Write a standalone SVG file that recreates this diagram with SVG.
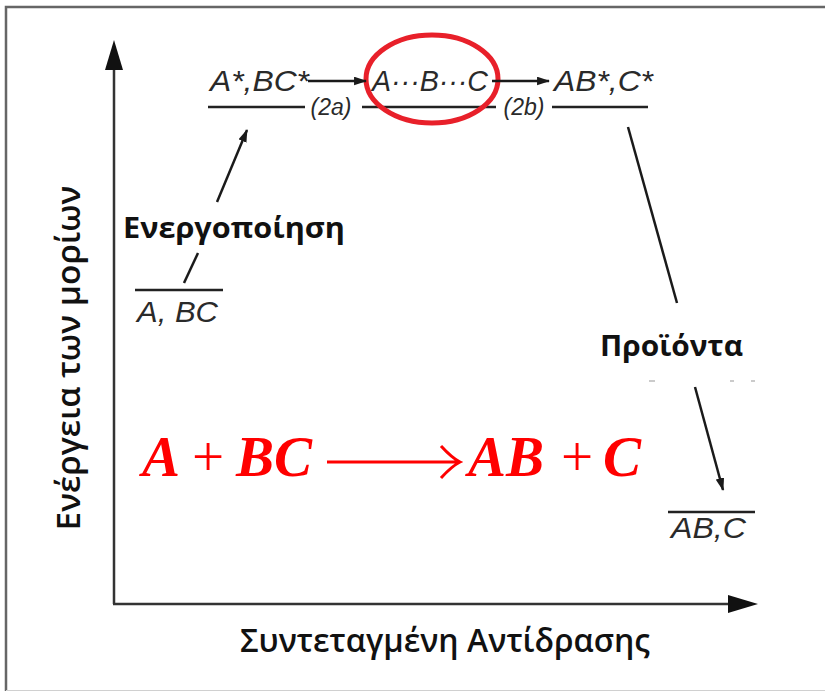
<svg xmlns="http://www.w3.org/2000/svg" width="825" height="693" viewBox="0 0 825 693">
<style>
.lvl{stroke:#222;stroke-width:2.5;fill:none}
.ax{stroke:#333;stroke-width:2.5;fill:none}
.con{stroke:#1a1a1a;stroke-width:2.5;fill:none}
.sp{font-family:"Liberation Sans",Arial,sans-serif;font-style:italic;fill:#2a2a2a}
.gr{font-family:"Open Sans","Noto Sans",sans-serif;fill:#111}
.eq{font-family:"Liberation Serif","Times New Roman",serif;font-weight:bold;font-style:italic;font-size:57px;fill:#ff0000}
</style>
<defs>
<marker id="ah" viewBox="0 0 12 8" refX="11" refY="4" markerWidth="13" markerHeight="9" markerUnits="userSpaceOnUse" orient="auto">
<path d="M0,0 L12,4 L0,8 z" fill="#1a1a1a"/>
</marker>
</defs>
<rect width="825" height="693" fill="#fff"/>
<g id="frame">
<path d="M6,691 V7 H825" fill="none" stroke="#666" stroke-width="2.5"/>
<path d="M6,690.5 H825" fill="none" stroke="#d0d0d0" stroke-width="1"/>
</g>
<g id="axes">
<path class="ax" d="M114,604 V68"/>
<polygon points="114,40 105,70 123,70" fill="#111"/>
<path class="ax" d="M113,604 H730"/>
<polygon points="758,604 728,595 728,613" fill="#111"/>
<text class="gr" x="80" y="358" font-size="33" font-weight="600" text-anchor="middle" transform="rotate(-90 80 358)" textLength="345" lengthAdjust="spacingAndGlyphs">Ενέργεια των μορίων</text>
<text class="gr" x="445" y="652" font-size="32" font-weight="600" text-anchor="middle" textLength="410" lengthAdjust="spacingAndGlyphs">Συντεταγμένη Αντίδρασης</text>
</g>
<g id="node-reactants">
<path class="lvl" d="M135,290 H223"/>
<text class="sp" x="137" y="322" font-size="29" textLength="81" lengthAdjust="spacingAndGlyphs">A, BC</text>
</g>
<g id="node-activated">
<path class="lvl" d="M208,107 H305"/>
<text class="sp" x="210" y="91" font-size="29" textLength="99" lengthAdjust="spacingAndGlyphs">A*,BC*</text>
</g>
<g id="node-complex">
<path class="lvl" d="M362,107 H496"/>
<text class="sp" x="372" y="91" font-size="29" textLength="116" lengthAdjust="spacingAndGlyphs">A···B···C</text>
<ellipse cx="432" cy="79" rx="66" ry="44" fill="none" stroke="#e8202a" stroke-width="5"/>
</g>
<g id="node-products-excited">
<path class="lvl" d="M552,107 H648"/>
<text class="sp" x="554" y="91" font-size="29" textLength="99" lengthAdjust="spacingAndGlyphs">AB*,C*</text>
</g>
<g id="node-products">
<path class="lvl" d="M668,512 H755"/>
<text class="sp" x="671" y="538" font-size="29" textLength="75" lengthAdjust="spacingAndGlyphs">AB,C</text>
</g>
<g id="connectors">
<path class="con" d="M308,81 H366" stroke-width="2" marker-end="url(#ah)"/>
<text class="sp" x="331" y="115" font-size="23" text-anchor="middle">(2a)</text>
<path class="con" d="M492,81 H549" stroke-width="2" marker-end="url(#ah)"/>
<text class="sp" x="524" y="115" font-size="23" text-anchor="middle">(2b)</text>
<path class="con" d="M184,283 L198,253"/>
<path class="con" d="M217,202 L247,130" marker-end="url(#ah)"/>
<text class="gr" x="123" y="238" font-size="28" font-weight="bold" textLength="222" lengthAdjust="spacingAndGlyphs">Ενεργοποίηση</text>
<path class="con" d="M628,127 L677,303"/>
<text class="gr" x="600" y="356" font-size="28" font-weight="bold" textLength="143" lengthAdjust="spacingAndGlyphs">Προϊόντα</text>
<path class="con" d="M695,387 L723,490" marker-end="url(#ah)"/>
<path d="M649,381 H655 M730,381 H734 M751,381 H755" stroke="#bbb" stroke-width="1.5"/>
</g>
<g id="equation">
<text class="eq" x="142" y="476">A</text>
<text x="192" y="476" font-family="Liberation Serif,serif" font-size="57" fill="#ff0000">+</text>
<text class="eq" x="236" y="476">BC</text>
<path d="M327,462 H458 M441,446 Q452,458 460,462 Q452,466 441,478" fill="none" stroke="#ff0000" stroke-width="3"/>
<text class="eq" x="468" y="476">AB</text>
<text x="561" y="476" font-family="Liberation Serif,serif" font-size="57" fill="#ff0000">+</text>
<text class="eq" x="603" y="476">C</text>
</g>
</svg>
